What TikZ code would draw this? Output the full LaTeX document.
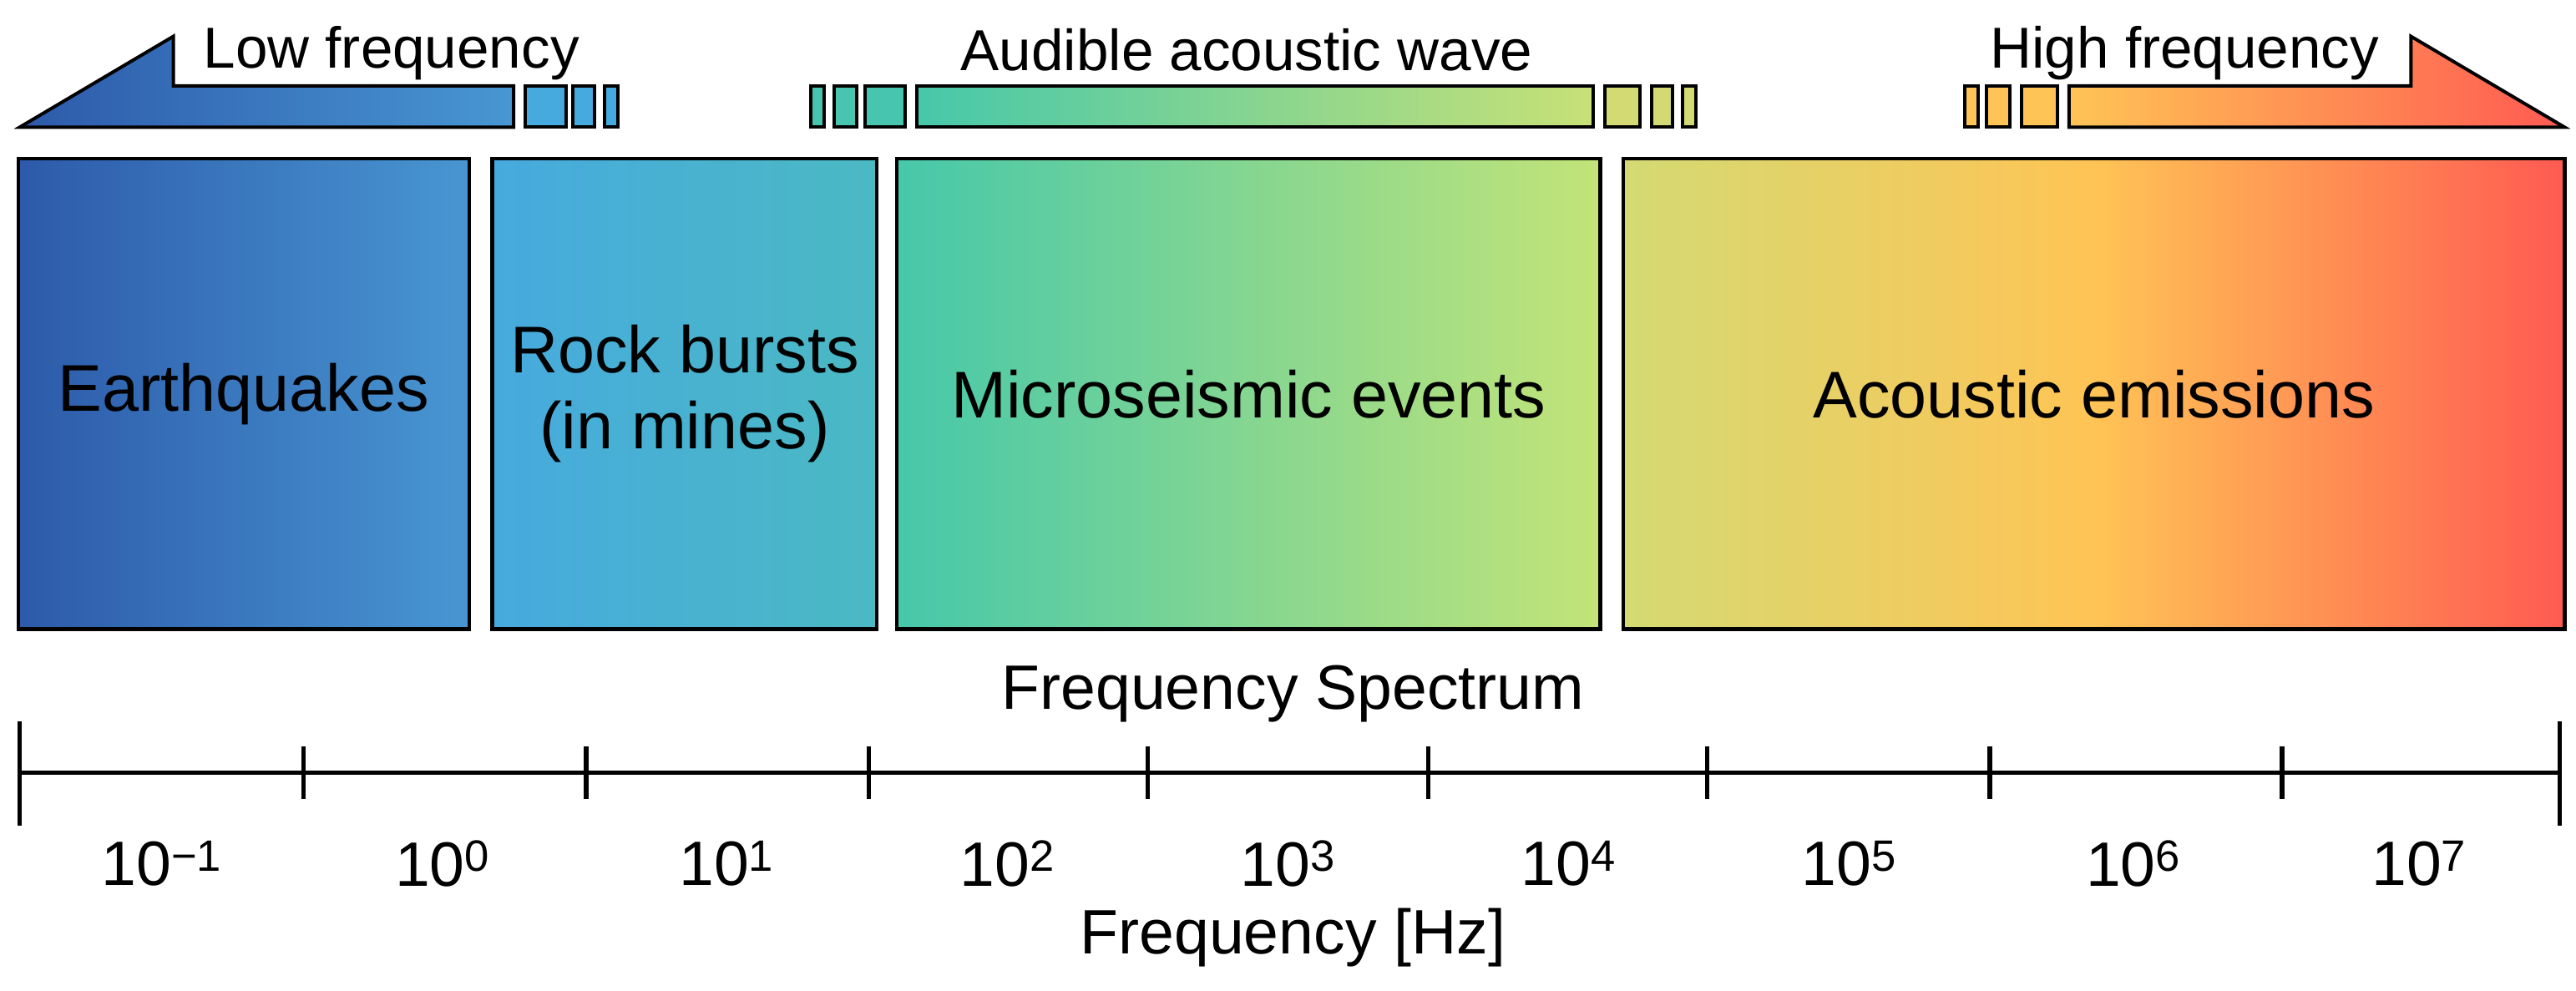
\documentclass[tikz,border=0pt]{standalone}
\usepackage{fontspec}
\setmainfont{Liberation Sans}
\usetikzlibrary{positioning}
\definecolor{cA}{RGB}{45,90,170}
\definecolor{cB}{RGB}{72,150,210}
\definecolor{cC}{RGB}{70,170,222}
\definecolor{cD}{RGB}{75,185,195}
\definecolor{cE}{RGB}{70,200,170}
\definecolor{cF}{RGB}{195,228,120}
\definecolor{cG}{RGB}{212,218,115}
\definecolor{cH}{RGB}{255,196,85}
\definecolor{cI}{RGB}{255,90,82}
\tikzset{
  band/.style={draw=black, line width=2.2pt, anchor=north west, inner sep=0pt, align=center,
    font=\fontsize{40}{46}\selectfont},
  piece/.style={draw=black, line width=2pt},
  toplabel/.style={font=\fontsize{35}{38}\selectfont, inner sep=0pt},
  ticklabel/.style={font=\fontsize{38}{42}\selectfont, inner sep=0pt},
  axis/.style={line width=2.6pt}
}
\begin{document}
\begin{tikzpicture}[x=1pt,y=-1pt]
\useasboundingbox (0,0) rectangle (1560,600);

% Top arrows
\draw [piece, left color=cA, right color=cB] (12,77) -- (105,22) -- (105,52) -- (311,52) -- (311,77) -- cycle;
\foreach \a/\b in {318/343, 347/360, 366/374}
  \draw [piece, fill=cC] (\a,52) rectangle (\b,77);
\foreach \a/\b in {491/499, 505/519, 524/548}
  \draw [piece, fill=cE!80!cD] (\a,52) rectangle (\b,77);
\draw [piece, left color=cE, right color=cF!70!cG] (555,52) rectangle (965,77);
\foreach \a/\b in {972/993, 1000/1013, 1019/1027}
  \draw [piece, fill=cG] (\a,52) rectangle (\b,77);
\foreach \a/\b in {1190/1198, 1203/1217, 1224/1246}
  \draw [piece, fill=cH] (\a,52) rectangle (\b,77);
\draw [piece, left color=cH, right color=cI] (1253,52) -- (1460,52) -- (1460,22) -- (1553,77) -- (1253,77) -- cycle;

\node (low) [toplabel] at (237,32) {Low frequency};
\node (aud) [toplabel] at (755,30) {Audible acoustic wave};
\node (high) [toplabel] at (1323,32) {High frequency};

% Bands
\node (eq) [band, minimum width=273pt, minimum height=285pt, left color=cA, right color=cB] at (10,95) {Earthquakes};
\node (rb) [band, minimum width=233pt, minimum height=285pt, left color=cC, right color=cD] at (297,95) {Rock bursts\\(in mines)};
\node (ms) [band, minimum width=426pt, minimum height=285pt, left color=cE, right color=cF] at (542,95) {Microseismic events};
\node (ae) [band, minimum width=570pt, minimum height=285pt, left color=cG, right color=cI, middle color=cH] at (982,95) {Acoustic emissions};

\node (spec) [ticklabel] at (783,420) {Frequency Spectrum};

% Axis
\coordinate (a0) at (12,468);
\coordinate (a9) at (1550,468);
\draw [axis] (a0) -- (a9);
\draw [axis] (12,437) -- (12,500);
\draw [axis] (1550,437) -- (1550,500);
\foreach \x in {184,355,526,695,865,1034,1205,1382}
  \draw [axis] (\x,452) -- (\x,484);
\foreach \x/\e in {98/{−1}, 268/0, 440/1, 610/2, 780/3, 950/4, 1120/5, 1292/6, 1465/7}
  \node [ticklabel] at (\x,523) {10\textsuperscript{\e}};
\node (fhz) [ticklabel] at (783,568) {Frequency [Hz]};
\end{tikzpicture}
\end{document}
